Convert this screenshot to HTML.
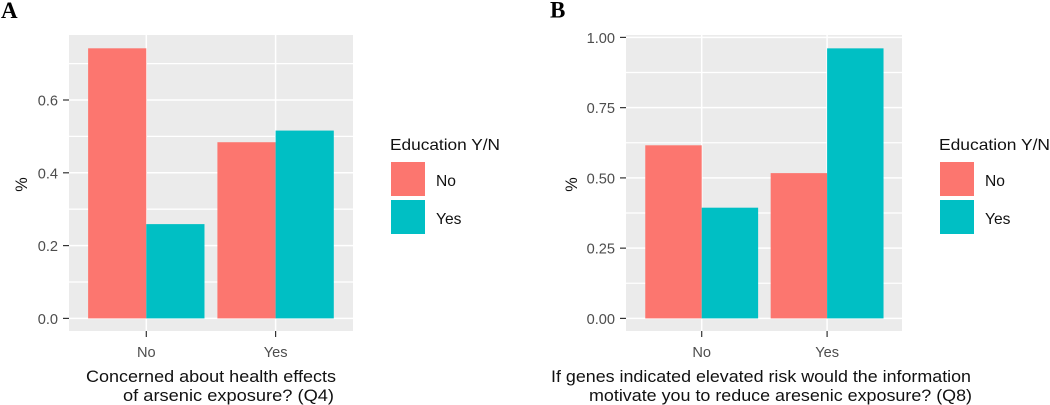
<!DOCTYPE html>
<html lang="en">
<head>
<meta charset="utf-8">
<title>Education and arsenic survey responses</title>
<style>
html,body{margin:0;padding:0;background:#fff;width:1050px;height:405px;overflow:hidden}
svg{display:block;font-family:"Liberation Sans",sans-serif;filter:blur(0.35px)}
.tick{font-size:14.6px;fill:#4d4d4d}
.axt{font-size:16.3px;fill:#111}
.leg{font-size:15.6px;fill:#111}
.pl{font-family:"Liberation Serif",serif;font-weight:700;font-size:23px;fill:#000}
</style>
</head>
<body>
<svg id="chart" xmlns="http://www.w3.org/2000/svg" width="1050" height="405" viewBox="0 0 1050 405">
  <text class="pl" x="1" y="18">A</text>
  <text class="pl" x="550" y="17.5">B</text>
  <g id="panelA"></g>
  <g id="panelB"></g>

  <text class="axt" x="86" y="382" textLength="250" lengthAdjust="spacingAndGlyphs">Concerned about health effects</text>
  <text class="axt" x="123" y="401" textLength="211" lengthAdjust="spacingAndGlyphs">of arsenic exposure? (Q4)</text>
  <text class="axt" x="551" y="382" textLength="420" lengthAdjust="spacingAndGlyphs">If genes indicated elevated risk would the information</text>
  <text class="axt" x="589" y="401" textLength="383" lengthAdjust="spacingAndGlyphs">motivate you to reduce aresenic exposure? (Q8)</text>

  <text class="axt" transform="translate(27,184.5) rotate(-90)" text-anchor="middle">%</text>
  <text class="axt" transform="translate(577,184.5) rotate(-90)" text-anchor="middle">%</text>

  <g>
    <text class="leg" x="390" y="150" textLength="110" lengthAdjust="spacingAndGlyphs">Education Y/N</text>
    <rect x="391" y="162" width="34" height="34" fill="#fc766f"/>
    <rect x="391" y="200" width="34" height="34" fill="#00bfc4"/>
    <text class="leg" x="436" y="186">No</text>
    <text class="leg" x="436" y="224">Yes</text>
  </g>
  <g>
    <text class="leg" x="939" y="150" textLength="111" lengthAdjust="spacingAndGlyphs">Education Y/N</text>
    <rect x="940" y="162" width="34" height="34" fill="#fc766f"/>
    <rect x="940" y="200" width="34" height="34" fill="#00bfc4"/>
    <text class="leg" x="985" y="186">No</text>
    <text class="leg" x="985" y="224">Yes</text>
  </g>
</svg>
<script>
var categories = ['No', 'Yes'];
var seriesNames = ['No', 'Yes'];
var seriesColors = ['#fc766f', '#00bfc4'];

var panelA_no = [0.742, 0.484];
var panelA_yes = [0.259, 0.516];
var panelA_ticks = [0, 0.2, 0.4, 0.6];
var panelA_tickLabels = ['0.0', '0.2', '0.4', '0.6'];
var panelA_minor = [0.1, 0.3, 0.5, 0.7];

var panelB_no = [0.616, 0.517];
var panelB_yes = [0.394, 0.961];
var panelB_ticks = [0, 0.25, 0.5, 0.75, 1];
var panelB_tickLabels = ['0.00', '0.25', '0.50', '0.75', '1.00'];
var panelB_minor = [0.125, 0.375, 0.625, 0.875];

var NS = 'http://www.w3.org/2000/svg';

function mk(parent, tag, attrs) {
  var el = document.createElementNS(NS, tag);
  for (var k in attrs) el.setAttribute(k, attrs[k]);
  parent.appendChild(el);
  return el;
}

function drawPanel(id, box, series, ticks, tickLabels, minor) {
  var g = document.getElementById(id);
  function yScale(v) { return box.y0 - v * box.unit; }
  function xScale(i) { return box.x0 + i * box.step; }
  var barW = box.step * 0.45;

  var bg = mk(g, 'rect', {x: box.left, y: box.top, width: box.right - box.left, height: box.bottom - box.top, fill: '#ebebeb'});
  
  

  minor.forEach(function (v) {
    var l = mk(g, 'line', {x1: box.left, x2: box.right, y1: yScale(v), y2: yScale(v), stroke: '#fff', 'stroke-width': 1.3});
    
    
  });

  ticks.forEach(function (v, i) {
    var y = yScale(v);
    var l = mk(g, 'line', {x1: box.left, x2: box.right, y1: y, y2: y, stroke: '#fff', 'stroke-width': 1.5});
    
    
    var t = mk(g, 'line', {x1: box.left - 6, x2: box.left, y1: y, y2: y, stroke: '#333', 'stroke-width': 1.2});
    
    
    var lab = mk(g, 'text', {x: box.left - 11, y: y + 5.5, 'text-anchor': 'end', 'class': 'tick'});
    lab.textContent = tickLabels[i];
    
    
  });

  categories.forEach(function (c, i) {
    var x = xScale(i);
    var l = mk(g, 'line', {x1: x, x2: x, y1: box.top, y2: box.bottom, stroke: '#fff', 'stroke-width': 1.5});
    
    
    var t = mk(g, 'line', {x1: x, x2: x, y1: box.bottom, y2: box.bottom + 6, stroke: '#333', 'stroke-width': 1.2});
    
    
    var lab = mk(g, 'text', {x: x, y: box.bottom + 26, 'text-anchor': 'middle', 'class': 'tick'});
    lab.textContent = c;
    
    
  });

  series.forEach(function (vals, s) {
    vals.forEach(function (v, i) {
      var x = xScale(i) + (s === 0 ? -barW : 0);
      var r = mk(g, 'rect', {x: x, y: yScale(v), width: barW, height: box.y0 - yScale(v), fill: seriesColors[s]});
      
      
    });
  });
}

drawPanel('panelA',
  {left: 69, right: 353, top: 35, bottom: 331, y0: 318.4, unit: 364, x0: 146.3, step: 129.3},
  [panelA_no, panelA_yes], panelA_ticks, panelA_tickLabels, panelA_minor);

drawPanel('panelB',
  {left: 626, right: 902, top: 35, bottom: 331, y0: 318.4, unit: 281, x0: 701.7, step: 125.4},
  [panelB_no, panelB_yes], panelB_ticks, panelB_tickLabels, panelB_minor);
</script>
</body>
</html>
